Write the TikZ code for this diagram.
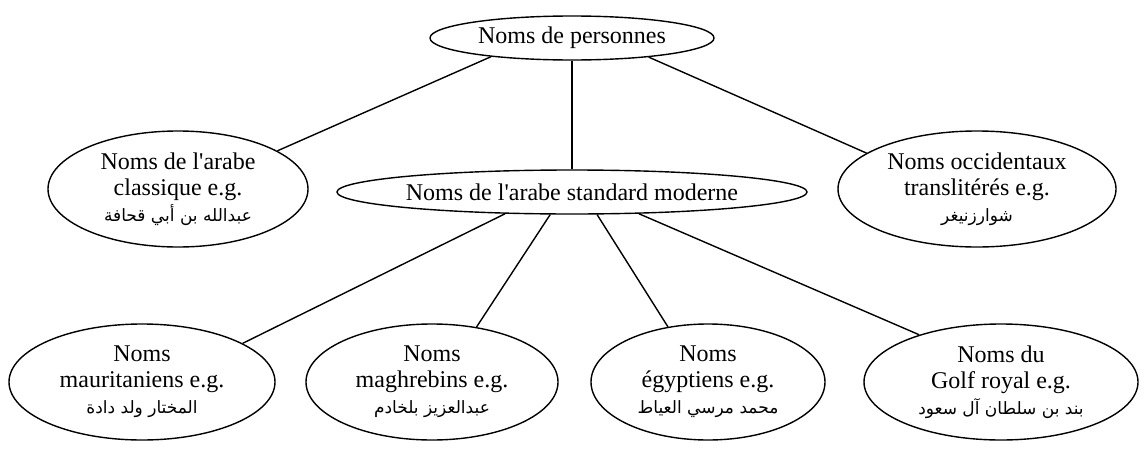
\documentclass[tikz,border=0pt]{standalone}
\usepackage{fontspec}
\setmainfont{Liberation Serif}[Ligatures=TeXOff]
\newfontfamily\arabicfont[Script=Arabic]{DejaVu Sans}
\TeXXeTstate=1
\usetikzlibrary{shapes.geometric}
\newcommand{\arabtext}[1]{{\arabicfont\fontsize{17}{21}\selectfont\beginR #1\endR}}
\begin{document}
\begin{tikzpicture}[x=1pt,y=-1pt,
  ell/.style={ellipse, draw, line width=1.4pt, inner sep=0pt, align=center,
    font=\fontsize{24}{26}\selectfont},
  edge/.style={line width=1.4pt}]
\useasboundingbox (0,0) rectangle (1146,450);
\node[ell, minimum width=284pt, minimum height=44pt] (top) at (572,38) {Noms de personnes};
\node[ell, minimum width=260pt, minimum height=116pt] (classique) at (178,189)
  {Noms de l'arabe\\classique e.g.\\\arabtext{عبدالله بن أبي قحافة}};
\node[ell, minimum width=470pt, minimum height=44pt] (standard) at (572,192) {Noms de l'arabe standard moderne};
\node[ell, minimum width=278pt, minimum height=116pt] (occid) at (977,189)
  {Noms occidentaux\\translitérés e.g.\\\arabtext{شوارزنيغر}};
\node[ell, minimum width=266pt, minimum height=116pt] (maur) at (142,382)
  {Noms\\mauritaniens e.g.\\\arabtext{المختار ولد دادة}};
\node[ell, minimum width=252pt, minimum height=116pt] (magh) at (432,382)
  {Noms\\maghrebins e.g.\\\arabtext{عبدالعزيز بلخادم}};
\node[ell, minimum width=234pt, minimum height=116pt] (egypt) at (708,382)
  {Noms\\égyptiens e.g.\\\arabtext{محمد مرسي العياط}};
\node[ell, minimum width=274pt, minimum height=116pt] (golf) at (1001,382)
  {Noms du\\Golf royal e.g.\\\arabtext{بند بن سلطان آل سعود}};
\draw[edge] (top.193) -- (classique.21);
\draw[edge] (top.south) -- (standard.north);
\draw[edge] (top.346) -- (occid.162);
\draw[edge] (standard.198) -- (maur.21);
\draw[edge] (standard.226) -- (magh.51);
\draw[edge] (standard.318) -- (egypt.126);
\draw[edge] (standard.342) -- (golf.150);
\end{tikzpicture}
\end{document}
